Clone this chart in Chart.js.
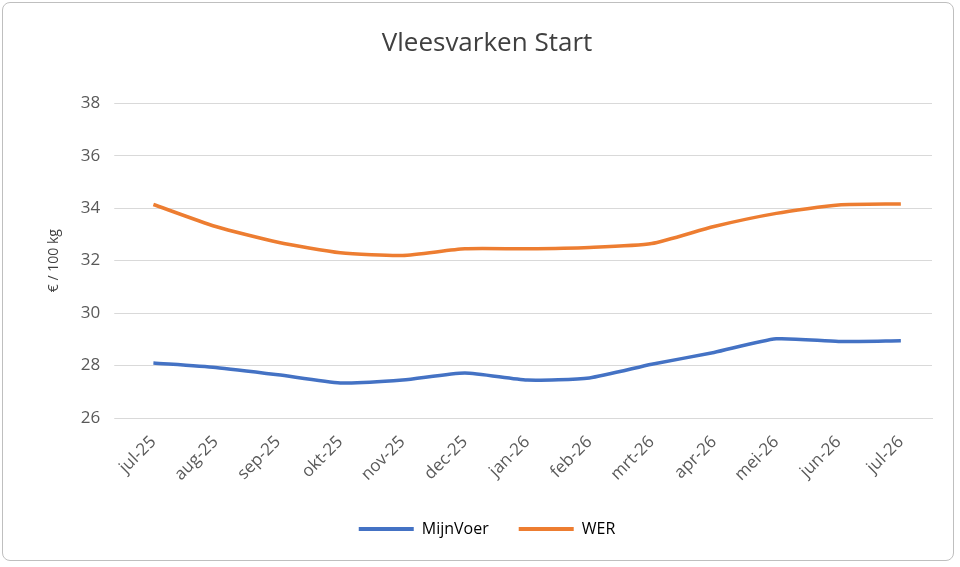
<!DOCTYPE html>
<html>
<head>
<meta charset="utf-8">
<script src="https://cdn.jsdelivr.net/npm/chart.js@4"></script>
<style>
  html, body { margin: 0; padding: 0; background: #fff; }
  .frame { position: absolute; left: 2px; top: 2px; width: 952px; height: 559px; border: 1px solid #bfbfbf; border-radius: 8px; box-sizing: border-box; }
  canvas { position: absolute; left: 0; top: 0; }
</style>
</head>
<body>
<div class="frame"></div>
<canvas id="myChart" width="960" height="567" style="width:960px;height:567px"></canvas>
<script>
const months = ['jul-25','aug-25','sep-25','okt-25','nov-25','dec-25','jan-26','feb-26','mrt-26','apr-26','mei-26','jun-26','jul-26'];
const mijnVoer = [28.1, 27.93, 27.65, 27.34, 27.45, 27.72, 27.45, 27.53, 28.05, 28.5, 29.02, 28.92, 28.95];
const wer = [34.14, 33.3, 32.7, 32.3, 32.2, 32.45, 32.45, 32.5, 32.65, 33.3, 33.8, 34.12, 34.16];
const yTicks = [26, 28, 30, 32, 34, 36, 38];

const ctx = document.getElementById('myChart');

new Chart(ctx, {
  type: 'line',
  data: {
    labels: months,
    datasets: [
      {
        label: 'MijnVoer',
        data: mijnVoer,
        borderWidth: 3.5,
        borderColor: '#4472c4',
        backgroundColor: '#4472c4',
        pointRadius: 0,
        tension: 0.2
      },
      {
        label: 'WER',
        data: wer,
        borderWidth: 3.5,
        borderColor: '#ed7d31',
        backgroundColor: '#ed7d31',
        pointRadius: 0,
        tension: 0.2
      }
    ]
  },
  options: {
    responsive: false,
    animation: false,
    layout: { padding: { left: 42, right: 28, top: 22, bottom: 20 } },
    plugins: {
      title: {
        display: true,
        text: 'Vleesvarken Start',
        color: '#404040',
        font: { family: 'Open Sans', size: 26, weight: 'normal' },
        padding: { top: 6, bottom: 44 }
      },
      legend: {
        position: 'bottom',
        labels: {
          color: '#404040',
          font: { family: 'Open Sans', size: 16 },
          boxWidth: 55,
          boxHeight: 0,
          padding: 30,
          generateLabels: chart => chart.data.datasets.map((d, i) => ({
            text: d.label,
            strokeStyle: d.borderColor,
            fillStyle: d.borderColor,
            lineWidth: 4,
            datasetIndex: i
          }))
        }
      }
    },
    scales: {
      x: {
        offset: true,
        grid: { display: false },
        border: { color: '#d9d9d9' },
        ticks: {
          color: '#595959',
          font: { family: 'Open Sans', size: 17 },
          maxRotation: 45,
          minRotation: 45,
          padding: 6
        }
      },
      y: {
        min: 26,
        max: 38,
        afterBuildTicks: axis => { axis.ticks = yTicks.map(v => ({ value: v })); },
        grid: { color: '#d9d9d9' },
        border: { display: false },
        title: {
          display: true,
          text: '€ / 100 kg',
          color: '#404040',
          font: { family: 'Open Sans', size: 14 }
        },
        ticks: {
          color: '#595959',
          font: { family: 'Open Sans', size: 17 },
          padding: 14
        }
      }
    }
  }
});
</script>
</body>
</html>
